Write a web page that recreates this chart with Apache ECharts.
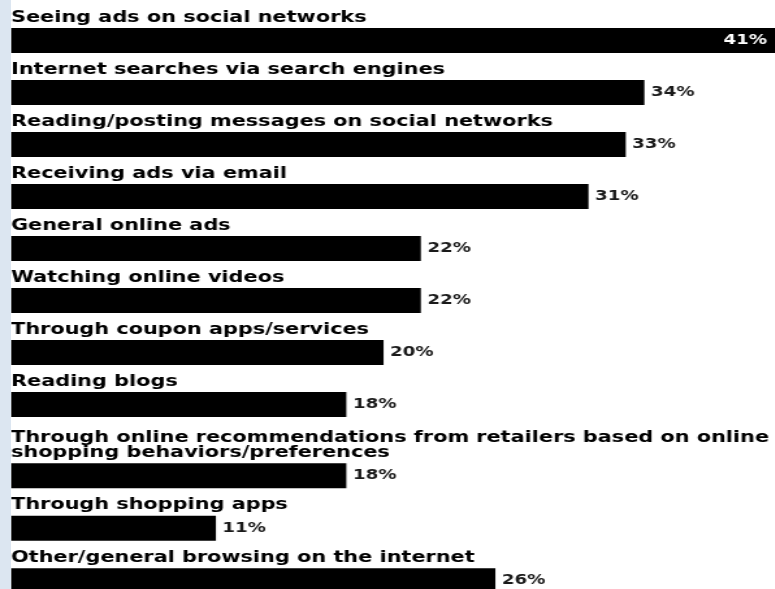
<!DOCTYPE html>
<html>
<head>
<meta charset="utf-8">
<script src="https://cdn.jsdelivr.net/npm/echarts@6/dist/echarts.min.js"></script>
<style>
  html, body { margin: 0; padding: 0; background: #fff; overflow: hidden; }
  /* taller than the window: the last bar runs off the bottom edge like in the source */
  #chart { position: absolute; left: 0; top: 0; height: 620px; transform-origin: 0 0; }
  #strip { position: absolute; left: 0; top: 0; width: 11px; height: 620px; background: #dce6f1; }
</style>
</head>
<body>
<div id="chart"></div>
<div id="strip"></div>
<script>
const categories = [
  "Seeing ads on social networks",
  "Internet searches via search engines",
  "Reading/posting messages on social networks",
  "Receiving ads via email",
  "General online ads",
  "Watching online videos",
  "Through coupon apps/services",
  "Reading blogs",
  "Through online recommendations from retailers based on online\nshopping behaviors/preferences",
  "Through shopping apps",
  "Other/general browsing on the internet"
];
const values = [41, 34, 33, 31, 22, 22, 20, 18, 18, 11, 26];
const valueMax = 41;

// the source picture is stretched sideways, so the chart is drawn narrow and widened
const STRETCH = 1.3;
const W = 775 / STRETCH;
const dom = document.getElementById("chart");
dom.style.width = W + "px";
dom.style.transform = "scaleX(" + STRETCH + ")";

const chart = echarts.init(dom, null, { renderer: "canvas" });

// first 8 rows are evenly spaced, the last 3 sit lower because of the two-line label
const SPLIT = 8;
const groups = [
  { from: 0, to: SPLIT, top: 14.5, height: 416 },
  { from: SPLIT, to: categories.length, top: 449.5, height: 157.5 }
];

const font = "'DejaVu Sans', Verdana, sans-serif";
const gridLeft = 11 / STRETCH;
const gridWidth = (777 - 11) / STRETCH;

const grid = [], xAxis = [], yAxis = [], series = [];
groups.forEach((g, i) => {
  grid.push({ left: gridLeft, width: gridWidth, top: g.top, height: g.height });
  xAxis.push({ gridIndex: i, type: "value", min: 0, max: valueMax, show: false });
  yAxis.push({
    gridIndex: i,
    type: "category",
    inverse: true,
    show: false,
    data: categories.slice(g.from, g.to)
  });
  const vals = values.slice(g.from, g.to);
  series.push({
    type: "bar",
    xAxisIndex: i,
    yAxisIndex: i,
    barWidth: 25,
    silent: true,
    itemStyle: { color: "#000" },
    label: {
      show: true,
      position: "right",
      distance: 5,
      formatter: "{c}%",
      fontFamily: font,
      fontWeight: "bold",
      fontSize: 14,
      color: "#1a1a1a"
    },
    data: vals.map((v) =>
      v === valueMax
        ? { value: v, label: { position: "insideRight", distance: 6, color: "#fff" } }
        : v
    )
  });
  // transparent twin bar that carries the row titles above each bar
  series.push({
    type: "bar",
    xAxisIndex: i,
    yAxisIndex: i,
    barWidth: 25,
    barGap: "-100%",
    silent: true,
    itemStyle: { color: "rgba(0,0,0,0)" },
    label: {
      show: true,
      position: [0, -3],
      align: "left",
      verticalAlign: "bottom",
      formatter: "{b}",
      fontFamily: font,
      fontWeight: "bold",
      fontSize: 16,
      lineHeight: 15,
      color: "#000"
    },
    data: vals
  });
});

chart.setOption({
  animation: false,
  backgroundColor: "#fff",
  grid: grid,
  xAxis: xAxis,
  yAxis: yAxis,
  series: series
});
</script>
</body>
</html>
